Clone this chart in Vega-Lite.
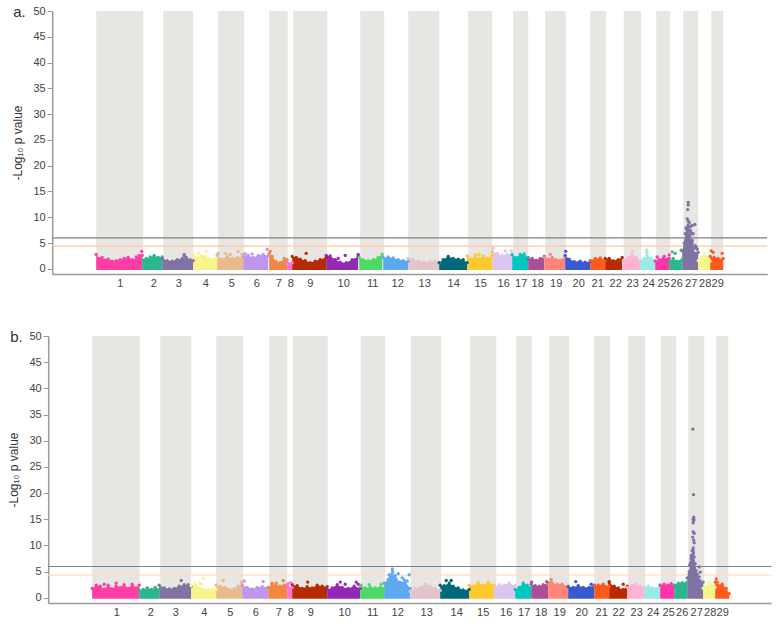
{"$schema":"https://vega.github.io/schema/vega-lite/v6.json","background":"white","padding":{"left":7,"top":5,"right":0,"bottom":0},"spacing":42,"center":true,"align":"each",
"config":{"view":{"stroke":null},"font":"Liberation Sans","legend":{"disable":true},"range":{"category":["#FF3EA5","#2BB78C","#8172A4","#F7F58B","#EABA8B","#BE96F0","#F58642","#FF70E0","#B82B00","#9328B5","#4CD964","#5CA9F2","#E2C5CB","#00687A","#FFC82E","#DCC6F0","#00C8C0","#AD4F96","#FF8578","#3A58CF","#FF5A1E","#B82B00","#FFB3D1","#9AEBE5","#FF33AA","#2BB78C","#8172A4","#F7F58B","#FF5A1E"]},"axis":{"grid":false,"domainColor":"#999999","domainWidth":1.5,"tickColor":"#999999","labelColor":"#444444","labelFontSize":11,"labelOverlap":false,"labelBound":false,"labelFlush":false,"titleColor":"#333333","titleFontSize":12,"titleFontWeight":"normal"}},
"datasets":{
"bandsA":[{"c":1,"x0":96,"x1":143},{"c":3,"x0":163,"x1":193},{"c":5,"x0":218,"x1":244},{"c":7,"x0":269,"x1":287.5},{"c":9,"x0":293,"x1":327},{"c":11,"x0":360,"x1":384},{"c":13,"x0":408,"x1":439},{"c":15,"x0":468,"x1":492},{"c":17,"x0":513,"x1":528},{"c":19,"x0":545,"x1":565.5},{"c":21,"x0":590,"x1":606},{"c":23,"x0":623.5,"x1":641},{"c":25,"x0":656,"x1":670},{"c":27,"x0":683,"x1":698},{"c":29,"x0":711,"x1":723}],
"bandsB":[{"c":1,"x0":92,"x1":139.5},{"c":3,"x0":160,"x1":191},{"c":5,"x0":216,"x1":243},{"c":7,"x0":269,"x1":287},{"c":9,"x0":292.5,"x1":327.5},{"c":11,"x0":360.5,"x1":385},{"c":13,"x0":410.5,"x1":441},{"c":15,"x0":470,"x1":496},{"c":17,"x0":516,"x1":531.5},{"c":19,"x0":549,"x1":569},{"c":21,"x0":594,"x1":610},{"c":23,"x0":628,"x1":645},{"c":25,"x0":660.5,"x1":676},{"c":27,"x0":688,"x1":704},{"c":29,"x0":716,"x1":728}],
"gA":[{"y":6}],"oA":[{"y":4.4}],"gB":[{"y":5.97}],"oB":[{"y":4.33}],
"topA":[{"c":1,"x":96,"y":2.8},{"c":1,"x":99,"y":2},{"c":1,"x":102,"y":2.2},{"c":1,"x":105,"y":1.7},{"c":1,"x":108,"y":1.9},{"c":1,"x":112,"y":1.5},{"c":1,"x":116,"y":1.6},{"c":1,"x":120,"y":1.8},{"c":1,"x":124,"y":2},{"c":1,"x":128,"y":2.2},{"c":1,"x":132,"y":1.8},{"c":1,"x":136,"y":1.9},{"c":1,"x":139,"y":2.2},{"c":1,"x":142,"y":2.6},
{"c":2,"x":142,"y":1.8},{"c":2,"x":146,"y":2},{"c":2,"x":150,"y":2.3},{"c":2,"x":154,"y":2.6},{"c":2,"x":158,"y":2.2},{"c":2,"x":162,"y":2.3},
{"c":3,"x":162,"y":2},{"c":3,"x":167,"y":1.6},{"c":3,"x":172,"y":1.5},{"c":3,"x":177,"y":1.8},{"c":3,"x":182,"y":2},{"c":3,"x":186,"y":2.2},{"c":3,"x":190,"y":1.8},{"c":3,"x":193,"y":1.6},
{"c":4,"x":193,"y":3},{"c":4,"x":197,"y":2},{"c":4,"x":201,"y":2.6},{"c":4,"x":205,"y":2.4},{"c":4,"x":209,"y":2},{"c":4,"x":213,"y":1.8},{"c":4,"x":217,"y":2.4},
{"c":5,"x":217,"y":2.6},{"c":5,"x":222,"y":1.9},{"c":5,"x":227,"y":2.4},{"c":5,"x":232,"y":2},{"c":5,"x":237,"y":2.2},{"c":5,"x":243,"y":2.4},
{"c":6,"x":243,"y":2.5},{"c":6,"x":248,"y":2.6},{"c":6,"x":253,"y":2.2},{"c":6,"x":258,"y":2.6},{"c":6,"x":263,"y":2.8},{"c":6,"x":268,"y":2.5},
{"c":7,"x":269,"y":3},{"c":7,"x":272,"y":2.4},{"c":7,"x":276,"y":1.4},{"c":7,"x":280,"y":1.2},{"c":7,"x":284,"y":2},{"c":7,"x":287,"y":1.8},
{"c":8,"x":287,"y":1.3},{"c":8,"x":292,"y":1.2},
{"c":9,"x":292,"y":2.4},{"c":9,"x":296,"y":2.2},{"c":9,"x":300,"y":1.9},{"c":9,"x":305,"y":1.6},{"c":9,"x":310,"y":1.2},{"c":9,"x":315,"y":1.5},{"c":9,"x":320,"y":1.8},{"c":9,"x":326,"y":2.2},
{"c":10,"x":326,"y":2.6},{"c":10,"x":330,"y":2.5},{"c":10,"x":335,"y":1.8},{"c":10,"x":340,"y":1.3},{"c":10,"x":346,"y":1.2},{"c":10,"x":352,"y":1.8},{"c":10,"x":358,"y":2.4},
{"c":11,"x":359,"y":2.2},{"c":11,"x":363,"y":1.8},{"c":11,"x":368,"y":1.6},{"c":11,"x":373,"y":1.8},{"c":11,"x":378,"y":2.2},{"c":11,"x":382,"y":2.8},
{"c":12,"x":383,"y":2.2},{"c":12,"x":388,"y":2.3},{"c":12,"x":393,"y":2.1},{"c":12,"x":398,"y":1.8},{"c":12,"x":403,"y":1.6},{"c":12,"x":408,"y":1.5},
{"c":13,"x":408,"y":2},{"c":13,"x":412,"y":1.9},{"c":13,"x":418,"y":1.5},{"c":13,"x":424,"y":1.3},{"c":13,"x":430,"y":1.4},{"c":13,"x":435,"y":1.4},{"c":13,"x":439,"y":1.3},
{"c":14,"x":439,"y":1.2},{"c":14,"x":443,"y":1.8},{"c":14,"x":448,"y":2.4},{"c":14,"x":453,"y":2},{"c":14,"x":458,"y":1.9},{"c":14,"x":463,"y":1.8},{"c":14,"x":467,"y":1.2},
{"c":15,"x":467,"y":2.5},{"c":15,"x":471,"y":1.9},{"c":15,"x":475,"y":2.4},{"c":15,"x":479,"y":2},{"c":15,"x":483,"y":2.5},{"c":15,"x":487,"y":2},{"c":15,"x":492,"y":2.6},
{"c":16,"x":492,"y":3.3},{"c":16,"x":497,"y":3},{"c":16,"x":502,"y":2.6},{"c":16,"x":507,"y":2.8},{"c":16,"x":512,"y":3},
{"c":17,"x":512,"y":2.7},{"c":17,"x":516,"y":2.2},{"c":17,"x":520,"y":2.8},{"c":17,"x":524,"y":2.9},{"c":17,"x":528,"y":2.2},
{"c":18,"x":528,"y":1.9},{"c":18,"x":532,"y":2},{"c":18,"x":536,"y":1.7},{"c":18,"x":540,"y":2},{"c":18,"x":544,"y":2.4},
{"c":19,"x":544,"y":2.2},{"c":19,"x":548,"y":1.9},{"c":19,"x":552,"y":2.2},{"c":19,"x":556,"y":1.8},{"c":19,"x":560,"y":1.7},{"c":19,"x":565,"y":2.4},
{"c":20,"x":565,"y":2.6},{"c":20,"x":569,"y":1.9},{"c":20,"x":574,"y":1.4},{"c":20,"x":580,"y":1.5},{"c":20,"x":585,"y":1.3},{"c":20,"x":590,"y":1.4},
{"c":21,"x":590,"y":1.6},{"c":21,"x":595,"y":2},{"c":21,"x":600,"y":2.1},{"c":21,"x":605,"y":1.6},
{"c":22,"x":605,"y":2},{"c":22,"x":609,"y":2},{"c":22,"x":613,"y":1.6},{"c":22,"x":618,"y":1.8},{"c":22,"x":622,"y":2.2},
{"c":23,"x":623,"y":1.6},{"c":23,"x":628,"y":2.2},{"c":23,"x":632,"y":2.6},{"c":23,"x":636,"y":2.2},{"c":23,"x":640,"y":1.5},
{"c":24,"x":640,"y":1.6},{"c":24,"x":644,"y":2},{"c":24,"x":647,"y":2.6},{"c":24,"x":651,"y":2},{"c":24,"x":655,"y":1.7},
{"c":25,"x":655,"y":1.5},{"c":25,"x":659,"y":1.8},{"c":25,"x":663,"y":2},{"c":25,"x":667,"y":1.9},{"c":25,"x":669,"y":2},
{"c":26,"x":669,"y":1.5},{"c":26,"x":673,"y":2},{"c":26,"x":677,"y":1.5},{"c":26,"x":682,"y":1.9},
{"c":27,"x":682,"y":3.5},{"c":27,"x":684,"y":5},{"c":27,"x":686,"y":8},{"c":27,"x":688,"y":8.5},{"c":27,"x":690,"y":6.5},{"c":27,"x":692,"y":4.5},{"c":27,"x":695,"y":3},{"c":27,"x":698,"y":3.2},
{"c":28,"x":698,"y":1.6},{"c":28,"x":701,"y":2.2},{"c":28,"x":704,"y":3},{"c":28,"x":707,"y":2.2},{"c":28,"x":710,"y":1.5},
{"c":29,"x":710,"y":2.4},{"c":29,"x":714,"y":2.2},{"c":29,"x":718,"y":2},{"c":29,"x":723,"y":2}],
"outA":[{"c":1,"x":136,"y":2.3},{"c":1,"x":141.5,"y":3.4},{"c":1,"x":139,"y":2.6},{"c":3,"x":184,"y":2.8},{"c":3,"x":184,"y":2.5},{"c":4,"x":206,"y":3.4},{"c":4,"x":198,"y":3},{"c":5,"x":225,"y":3},{"c":5,"x":230,"y":2.8},{"c":5,"x":238,"y":3.4},{"c":5,"x":242,"y":2.8},{"c":5,"x":218,"y":3},{"c":6,"x":245,"y":2.9},{"c":6,"x":252,"y":2.9},{"c":6,"x":267,"y":3.8},{"c":7,"x":270,"y":3.4},{"c":9,"x":306,"y":3},{"c":10,"x":345,"y":2.6},{"c":10,"x":338,"y":2},{"c":10,"x":358,"y":2.8},{"c":15,"x":492,"y":3.3},{"c":15,"x":475,"y":2.7},{"c":15,"x":479,"y":2.8},{"c":16,"x":493,"y":4},{"c":16,"x":505,"y":3.5},{"c":16,"x":511,"y":3.5},{"c":19,"x":550,"y":2.8},{"c":20,"x":565.5,"y":3.4},{"c":23,"x":632,"y":3.3},{"c":24,"x":646.5,"y":3.2},{"c":24,"x":646.5,"y":3.6},{"c":25,"x":657,"y":2.3},{"c":25,"x":669,"y":2.7},{"c":25,"x":664,"y":2.4},{"c":26,"x":672,"y":3.3},{"c":26,"x":675,"y":3},{"c":26,"x":681,"y":3.6},{"c":29,"x":711,"y":3.5},{"c":29,"x":713,"y":3.2},{"c":29,"x":722,"y":3},
{"c":27,"x":688,"y":12.9},{"c":27,"x":688,"y":12.4},{"c":27,"x":687.5,"y":11.5},{"c":27,"x":687,"y":9.7},{"c":27,"x":688,"y":9.3},{"c":27,"x":689,"y":9},{"c":27,"x":690,"y":8.2},{"c":27,"x":694.7,"y":8.6},{"c":27,"x":692,"y":8.4},{"c":27,"x":691,"y":7},{"c":27,"x":693,"y":6.8},{"c":27,"x":685,"y":6.8},{"c":27,"x":687,"y":6.3},{"c":27,"x":689,"y":6},{"c":27,"x":692,"y":5.5},{"c":27,"x":685.5,"y":5.5},{"c":27,"x":688,"y":5},{"c":27,"x":692,"y":5},{"c":27,"x":695,"y":4.5},{"c":27,"x":694,"y":4},{"c":27,"x":696,"y":4.2},{"c":27,"x":697,"y":3.8},{"c":27,"x":685,"y":4.5},{"c":27,"x":690,"y":7.5},{"c":27,"x":686,"y":7.8},{"c":27,"x":688,"y":8}],
"topB":[{"c":1,"x":92,"y":1.8},{"c":1,"x":96,"y":2.4},{"c":1,"x":100,"y":2.2},{"c":1,"x":104,"y":1.6},{"c":1,"x":108,"y":2.4},{"c":1,"x":112,"y":1.7},{"c":1,"x":116,"y":2.2},{"c":1,"x":120,"y":2},{"c":1,"x":124,"y":2.5},{"c":1,"x":128,"y":1.8},{"c":1,"x":132,"y":2.6},{"c":1,"x":136,"y":1.9},{"c":1,"x":139,"y":2.4},
{"c":2,"x":139,"y":1.5},{"c":2,"x":143,"y":1.6},{"c":2,"x":147,"y":1.9},{"c":2,"x":151,"y":1.6},{"c":2,"x":155,"y":2},{"c":2,"x":159,"y":1.6},
{"c":3,"x":159,"y":2.4},{"c":3,"x":164,"y":1.9},{"c":3,"x":169,"y":1.7},{"c":3,"x":174,"y":1.8},{"c":3,"x":179,"y":2.2},{"c":3,"x":184,"y":2.5},{"c":3,"x":188,"y":2.5},{"c":3,"x":191,"y":2.2},
{"c":4,"x":191,"y":2.3},{"c":4,"x":195,"y":2.6},{"c":4,"x":199,"y":1.9},{"c":4,"x":203,"y":1.7},{"c":4,"x":208,"y":1.6},{"c":4,"x":212,"y":1.6},{"c":4,"x":216,"y":1.6},
{"c":5,"x":216,"y":2.4},{"c":5,"x":220,"y":2.2},{"c":5,"x":225,"y":2},{"c":5,"x":229,"y":1.6},{"c":5,"x":234,"y":1.7},{"c":5,"x":238,"y":2.2},{"c":5,"x":242,"y":2.6},
{"c":6,"x":242,"y":2.3},{"c":6,"x":247,"y":2},{"c":6,"x":252,"y":1.7},{"c":6,"x":257,"y":2},{"c":6,"x":262,"y":2.1},{"c":6,"x":268,"y":2},
{"c":7,"x":268,"y":2},{"c":7,"x":272,"y":2.6},{"c":7,"x":276,"y":2.4},{"c":7,"x":280,"y":2.2},{"c":7,"x":284,"y":2.4},{"c":7,"x":287,"y":2.5},
{"c":8,"x":287,"y":2.2},{"c":8,"x":292,"y":2},
{"c":9,"x":292,"y":2.5},{"c":9,"x":297,"y":2.3},{"c":9,"x":302,"y":1.8},{"c":9,"x":307,"y":2.1},{"c":9,"x":312,"y":1.9},{"c":9,"x":317,"y":2.4},{"c":9,"x":322,"y":2.2},{"c":9,"x":327,"y":2.1},
{"c":10,"x":327,"y":1.6},{"c":10,"x":332,"y":1.9},{"c":10,"x":337,"y":2.5},{"c":10,"x":342,"y":2},{"c":10,"x":348,"y":1.8},{"c":10,"x":354,"y":2.2},{"c":10,"x":360,"y":1.8},
{"c":11,"x":360,"y":2.2},{"c":11,"x":365,"y":1.9},{"c":11,"x":370,"y":2},{"c":11,"x":375,"y":1.9},{"c":11,"x":380,"y":2},{"c":11,"x":384,"y":1.9},
{"c":12,"x":384,"y":2.8},{"c":12,"x":388,"y":3.5},{"c":12,"x":392,"y":4.6},{"c":12,"x":396,"y":3.6},{"c":12,"x":400,"y":3},{"c":12,"x":405,"y":3},{"c":12,"x":410,"y":1.8},
{"c":13,"x":410,"y":1.2},{"c":13,"x":415,"y":1.8},{"c":13,"x":420,"y":2},{"c":13,"x":425,"y":2.6},{"c":13,"x":430,"y":2.2},{"c":13,"x":435,"y":1.8},{"c":13,"x":440,"y":1.4},
{"c":14,"x":440,"y":2.4},{"c":14,"x":444,"y":2.3},{"c":14,"x":449,"y":2.8},{"c":14,"x":453,"y":2.2},{"c":14,"x":458,"y":1.9},{"c":14,"x":463,"y":1.5},{"c":14,"x":469,"y":1.6},
{"c":15,"x":469,"y":2.4},{"c":15,"x":473,"y":2.2},{"c":15,"x":478,"y":2.9},{"c":15,"x":483,"y":2.4},{"c":15,"x":488,"y":3},{"c":15,"x":494,"y":2.4},
{"c":16,"x":494,"y":2},{"c":16,"x":499,"y":2.5},{"c":16,"x":504,"y":2.4},{"c":16,"x":509,"y":2.8},{"c":16,"x":515,"y":2.3},
{"c":17,"x":515,"y":1.6},{"c":17,"x":519,"y":2},{"c":17,"x":523,"y":2.8},{"c":17,"x":527,"y":2.4},{"c":17,"x":531,"y":2},
{"c":18,"x":531,"y":2.6},{"c":18,"x":535,"y":2.3},{"c":18,"x":539,"y":2.2},{"c":18,"x":543,"y":2.5},{"c":18,"x":548,"y":2.8},
{"c":19,"x":548,"y":2.6},{"c":19,"x":552,"y":2.8},{"c":19,"x":557,"y":2.6},{"c":19,"x":562,"y":2.6},{"c":19,"x":568,"y":2.2},
{"c":20,"x":568,"y":2.1},{"c":20,"x":573,"y":2},{"c":20,"x":578,"y":2.3},{"c":20,"x":583,"y":2},{"c":20,"x":589,"y":2},{"c":20,"x":594,"y":2.4},
{"c":21,"x":594,"y":2.3},{"c":21,"x":598,"y":2.4},{"c":21,"x":603,"y":2.6},{"c":21,"x":609,"y":2.2},
{"c":22,"x":609,"y":2.8},{"c":22,"x":614,"y":2.2},{"c":22,"x":618,"y":1.9},{"c":22,"x":623,"y":1.6},{"c":22,"x":627,"y":2.2},
{"c":23,"x":627,"y":2},{"c":23,"x":632,"y":2.4},{"c":23,"x":636,"y":2.6},{"c":23,"x":640,"y":2.2},{"c":23,"x":644,"y":2},
{"c":24,"x":644,"y":1.9},{"c":24,"x":648,"y":2.2},{"c":24,"x":652,"y":1.9},{"c":24,"x":656,"y":1.8},{"c":24,"x":660,"y":2.6},
{"c":25,"x":660,"y":2.4},{"c":25,"x":664,"y":2.6},{"c":25,"x":668,"y":2.4},{"c":25,"x":671,"y":2.7},{"c":25,"x":674,"y":2.3},
{"c":26,"x":674,"y":2.4},{"c":26,"x":678,"y":2.8},{"c":26,"x":682,"y":2.9},{"c":26,"x":687,"y":3},
{"c":27,"x":687,"y":3.8},{"c":27,"x":689,"y":5},{"c":27,"x":691,"y":8},{"c":27,"x":693,"y":9},{"c":27,"x":695,"y":6.5},{"c":27,"x":697,"y":4.5},{"c":27,"x":700,"y":3.2},{"c":27,"x":703,"y":3},
{"c":28,"x":703,"y":1.8},{"c":28,"x":706,"y":2.2},{"c":28,"x":710,"y":2.6},{"c":28,"x":713,"y":2.4},{"c":28,"x":715,"y":2},
{"c":29,"x":715,"y":3},{"c":29,"x":718,"y":2.4},{"c":29,"x":722,"y":2.6},{"c":29,"x":726,"y":1.8},{"c":29,"x":729,"y":0.8}],
"outB":[{"c":1,"x":116,"y":2.8},{"c":1,"x":104,"y":2.6},{"c":3,"x":181,"y":3.3},{"c":4,"x":203,"y":3.7},{"c":4,"x":201,"y":2.7},{"c":4,"x":199,"y":2.9},{"c":5,"x":223,"y":3.3},{"c":5,"x":241,"y":3},{"c":6,"x":244,"y":3.2},{"c":6,"x":263,"y":3.1},{"c":7,"x":283,"y":3.3},{"c":7,"x":272,"y":2.8},{"c":7,"x":276,"y":2.8},{"c":8,"x":288,"y":2.7},{"c":8,"x":290.5,"y":2.9},{"c":9,"x":307.5,"y":3},{"c":10,"x":340,"y":3},{"c":10,"x":345,"y":2.6},{"c":10,"x":356,"y":3},{"c":10,"x":358,"y":2.6},{"c":11,"x":369,"y":2.5},{"c":11,"x":381,"y":2.6},{"c":11,"x":361,"y":2.4},
{"c":12,"x":389,"y":4.4},{"c":12,"x":392,"y":5.5},{"c":12,"x":392.5,"y":5},{"c":12,"x":390,"y":4},{"c":12,"x":395,"y":4.2},{"c":12,"x":398,"y":4.6},{"c":12,"x":402,"y":3.8},{"c":12,"x":409,"y":4.4},{"c":12,"x":404,"y":3.4},{"c":12,"x":407,"y":3.2},
{"c":14,"x":446,"y":3.3},{"c":14,"x":451,"y":3.3},{"c":18,"x":531.5,"y":3},{"c":18,"x":546.5,"y":3.1},{"c":19,"x":551,"y":3.5},{"c":19,"x":551,"y":3},{"c":20,"x":575.5,"y":3.1},{"c":20,"x":591,"y":2.6},{"c":22,"x":609,"y":3.1},{"c":22,"x":623,"y":2.6},{"c":28,"x":708,"y":3},{"c":29,"x":716,"y":3.6},{"c":29,"x":717,"y":3},
{"c":27,"x":692.7,"y":32.2},{"c":27,"x":693.3,"y":19.7},{"c":27,"x":693.5,"y":15.4},{"c":27,"x":693,"y":15},{"c":27,"x":693.2,"y":14.7},{"c":27,"x":693.8,"y":14.9},{"c":27,"x":693,"y":14.3},{"c":27,"x":693,"y":12.6},{"c":27,"x":694,"y":12.3},{"c":27,"x":692.5,"y":11.6},{"c":27,"x":693.5,"y":11},{"c":27,"x":694,"y":10.5},{"c":27,"x":693,"y":9.5},{"c":27,"x":692,"y":9},{"c":27,"x":693.3,"y":8.5},{"c":27,"x":692,"y":8.2},{"c":27,"x":694,"y":7.8},{"c":27,"x":691,"y":7.5},{"c":27,"x":693,"y":7},{"c":27,"x":690.5,"y":6.8},{"c":27,"x":692,"y":6.5},{"c":27,"x":689.5,"y":6.3},{"c":27,"x":692,"y":6},{"c":27,"x":691,"y":5.6},{"c":27,"x":699,"y":5.9},{"c":27,"x":700,"y":4.9},{"c":27,"x":696,"y":4.4},{"c":27,"x":699,"y":4},{"c":27,"x":694,"y":5.4},{"c":27,"x":690,"y":5},{"c":27,"x":696,"y":5.2},{"c":27,"x":689,"y":4.5}]
},
"vconcat":[
{"width":715,"height":263,"title":{"text":"a.","anchor":"start","frame":"group","dx":-39,"dy":15,"baseline":"top","offset":0,"fontSize":15,"fontWeight":"normal","color":"#333333"},
"layer":[
{"data":{"name":"bandsA"},"mark":{"type":"rect","color":"#E7E6E2"},"encoding":{"x":{"field":"x0","type":"quantitative","scale":{"domain":[52,767],"nice":false,"zero":false},"axis":{"title":null,"ticks":false,"labelPadding":3,"tickCount":40,"values":[119.5,153,178,205,231,256,278,290,309.5,343,372,397,424,453,480,503,520.5,537,555.5,578,597,615,632,648,663,676,690.5,704.5,717],"labelExpr":"round(datum.index*28)+1"}},"x2":{"field":"x1"},"y":{"datum":50,"type":"quantitative","scale":{"domain":[-1,50],"nice":false,"zero":false},"axis":{"title":"-Log₁₀ p value","titleX":-28,"tickCount":20,"values":[0,5,10,15,20,25,30,35,40,45,50],"tickSize":5}},"y2":{"datum":0}}},
{"data":{"name":"gA"},"mark":{"type":"rule","strokeWidth":1.2,"color":"#808080"},"encoding":{"y":{"field":"y","type":"quantitative"}}},
{"data":{"name":"oA"},"mark":{"type":"rule","strokeWidth":1.2,"color":"#FFC79A"},"encoding":{"y":{"field":"y","type":"quantitative"}}},
{"data":{"name":"topA"},"mark":{"type":"area","opacity":1},"encoding":{"x":{"field":"x","type":"quantitative"},"y":{"field":"y","type":"quantitative","stack":null},"y2":{"datum":-0.2},"color":{"field":"c","type":"nominal"}}},
{"data":{"name":"topA"},"mark":{"type":"circle","size":11,"opacity":1},"encoding":{"x":{"field":"x","type":"quantitative"},"y":{"field":"y","type":"quantitative"},"color":{"field":"c","type":"nominal"}}},
{"data":{"name":"outA"},"mark":{"type":"circle","size":11,"opacity":1},"encoding":{"x":{"field":"x","type":"quantitative"},"y":{"field":"y","type":"quantitative"},"color":{"field":"c","type":"nominal"}}}
]},
{"width":723,"height":267,"title":{"text":"b.","anchor":"start","frame":"group","dx":-38,"dy":15,"baseline":"top","offset":0,"fontSize":15,"fontWeight":"normal","color":"#333333"},
"layer":[
{"data":{"name":"bandsB"},"mark":{"type":"rect","color":"#E7E6E2"},"encoding":{"x":{"field":"x0","type":"quantitative","scale":{"domain":[48,771],"nice":false,"zero":false},"axis":{"title":null,"ticks":false,"labelPadding":3,"tickCount":40,"values":[116,150,175,203.5,229.5,255,278,290,310,344,372,397,426,456,482.5,505.5,523.5,540.5,559,581,601,618,636,652.5,668,681.5,696,709.5,722],"labelExpr":"round(datum.index*28)+1"}},"x2":{"field":"x1"},"y":{"datum":50,"type":"quantitative","scale":{"domain":[-1,50],"nice":false,"zero":false},"axis":{"title":"-Log₁₀ p value","titleX":-28,"tickCount":20,"values":[0,5,10,15,20,25,30,35,40,45,50],"tickSize":5}},"y2":{"datum":0}}},
{"data":{"name":"gB"},"mark":{"type":"rule","strokeWidth":1.2,"color":"#808080"},"encoding":{"y":{"field":"y","type":"quantitative"}}},
{"data":{"name":"oB"},"mark":{"type":"rule","strokeWidth":1.2,"color":"#FBDCC5"},"encoding":{"y":{"field":"y","type":"quantitative"}}},
{"data":{"name":"topB"},"mark":{"type":"area","opacity":1},"encoding":{"x":{"field":"x","type":"quantitative"},"y":{"field":"y","type":"quantitative","stack":null},"y2":{"datum":-0.2},"color":{"field":"c","type":"nominal"}}},
{"data":{"name":"topB"},"mark":{"type":"circle","size":11,"opacity":1},"encoding":{"x":{"field":"x","type":"quantitative"},"y":{"field":"y","type":"quantitative"},"color":{"field":"c","type":"nominal"}}},
{"data":{"name":"outB"},"mark":{"type":"circle","size":11,"opacity":1},"encoding":{"x":{"field":"x","type":"quantitative"},"y":{"field":"y","type":"quantitative"},"color":{"field":"c","type":"nominal"}}}
]}
]}
